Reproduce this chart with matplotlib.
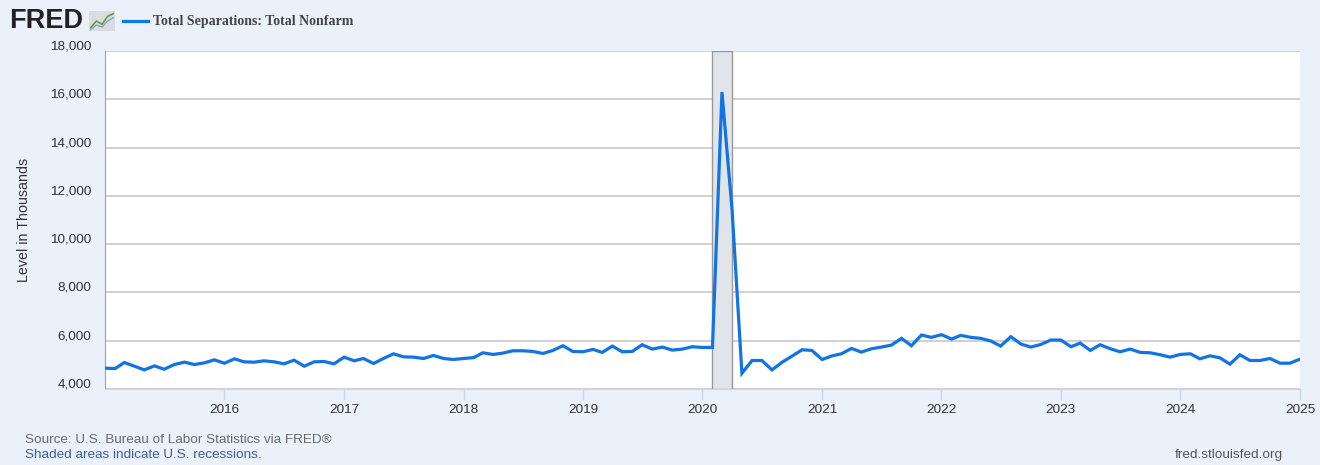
import numpy as np
import pandas as pd
import matplotlib
matplotlib.use("Agg")
import matplotlib.pyplot as plt
import matplotlib.dates as mdates
import matplotlib.transforms as mtransforms

plt.rcParams['font.family'] = ['Liberation Sans', 'DejaVu Sans']

# monthly total separations, thousands, Jan 2015 - Jan 2025
sep_2015 = [4861, 4847, 5097, 4944, 4792, 4958, 4819, 5014, 5111, 5014, 5083, 5208]
sep_2016 = [5069, 5250, 5125, 5111, 5167, 5125, 5042, 5194, 4944, 5125, 5139, 5042]
sep_2017 = [5319, 5167, 5264, 5056, 5264, 5458, 5333, 5319, 5264, 5389, 5264, 5222]
sep_2018 = [5264, 5300, 5500, 5431, 5486, 5583, 5583, 5556, 5472, 5597, 5792, 5556]
sep_2019 = [5542, 5639, 5514, 5778, 5542, 5556, 5833, 5653, 5736, 5611, 5653, 5750]
sep_2020 = [5722, 5722, 16300, 11400, 4653, 5181, 5181, 4792, 5111, 5361, 5625, 5597]
sep_2021 = [5222, 5375, 5458, 5681, 5528, 5667, 5736, 5819, 6097, 5792, 6236, 6139]
sep_2022 = [6250, 6069, 6222, 6139, 6097, 5986, 5778, 6167, 5861, 5736, 5847, 6028]
sep_2023 = [6028, 5750, 5903, 5597, 5833, 5667, 5542, 5653, 5514, 5500, 5417, 5319]
sep_2024 = [5431, 5458, 5250, 5375, 5292, 5028, 5417, 5181, 5181, 5264, 5069, 5069]
sep_2025 = [5236]

values = (sep_2015 + sep_2016 + sep_2017 + sep_2018 + sep_2019 + sep_2020
          + sep_2021 + sep_2022 + sep_2023 + sep_2024 + sep_2025)
dates = pd.date_range("2015-01-01", periods=len(values), freq="MS")

recession_start = "2020-02-01"
recession_end = "2020-04-01"

y_ticks = [4000, 6000, 8000, 10000, 12000, 14000, 16000, 18000]
x_years = list(range(2016, 2026))

BG = "#eaf1fa"
LINE = "#1073e6"

fig = plt.figure(figsize=(13.2, 4.65), dpi=100, facecolor=BG)
ax = fig.add_axes([105/1320, 1-389/465, 1195/1320, 338/465])
ax.set_facecolor("white")

ax.axvspan(pd.Timestamp(recession_start), pd.Timestamp(recession_end),
           facecolor="#e1e5ea", edgecolor="#999999", lw=1.0, zorder=1)
ax.plot(dates, values, color=LINE, lw=2.3, zorder=3, solid_joinstyle="miter")

ax.set_ylim(4000, 18000)
ax.set_xlim(pd.Timestamp("2015-01-01"), pd.Timestamp("2025-01-01"))
ax.set_yticks(y_ticks)
ax.set_yticklabels([f"{v:,}" for v in y_ticks])
ax.yaxis.grid(True, color="#c4c4c4", lw=1.1, zorder=0)
ax.set_axisbelow(True)

ax.set_xticks([pd.Timestamp(f"{y}-01-01") for y in x_years])
ax.xaxis.set_major_formatter(mdates.DateFormatter("%Y"))

ax.tick_params(axis="y", length=0, pad=10, labelsize=9.7, labelcolor="#333333")
ax.tick_params(axis="x", length=8, width=1, color="#ccd6eb", pad=3,
               labelsize=9.7, labelcolor="#333333")

# FRED puts y labels slightly above the gridline
shift = mtransforms.ScaledTranslation(0, 6/100, fig.dpi_scale_trans)
for lab in ax.get_yticklabels():
    lab.set_transform(lab.get_transform() + shift)

for s in ["top", "right"]:
    ax.spines[s].set_visible(False)
ax.spines["left"].set_color("#a0a0a0")
ax.spines["bottom"].set_color("#ccd6eb")

ax.set_ylabel("Level in Thousands", fontsize=10.3, color="#333333")
ax.yaxis.set_label_coords(-0.062, 0.5)

# header
fig.text(9/1320, 1-21/465, "FRED", fontsize=19.5, fontweight="heavy",
         color="#222222", va="center", ha="left")
icon = fig.add_axes([89/1320, 1-31/465, 26/1320, 20/465])
icon.set_facecolor("#d9dde2")
icon.plot([0, 1, 2, 3, 4], [0.5, 1.5, 1.0, 2.2, 2.6], color="#6a9d3a", lw=1.2)
icon.plot([0, 1, 2, 3, 4], [0.2, 0.9, 0.6, 1.5, 2.0], color="#7fa3c9", lw=1.0)
icon.set_xlim(-0.3, 4.3)
icon.set_ylim(0, 3)
icon.set_xticks([])
icon.set_yticks([])
for s in icon.spines.values():
    s.set_visible(False)

fig.add_artist(plt.Line2D([123/1320, 148/1320], [1-21/465, 1-21/465],
                          color=LINE, lw=2.3))
fig.text(153/1320, 1-21/465, "Total Separations: Total Nonfarm",
         family=["Liberation Serif", "DejaVu Serif"], fontweight="bold",
         fontsize=10, color="#444444", va="center", ha="left")

# footer
fig.text(25/1320, 1-440/465, "Source: U.S. Bureau of Labor Statistics via FRED\u00ae",
         fontsize=9.7, color="#6b6b6b", va="center", ha="left")
fig.text(25/1320, 1-455/465, "Shaded areas indicate U.S. recessions.",
         fontsize=9.7, color="#3a5fa6", va="center", ha="left")
fig.text(1283/1320, 1-455/465, "fred.stlouisfed.org",
         fontsize=9.7, color="#555555", va="center", ha="right")

fig.savefig("out.png", dpi=100, facecolor=BG)
